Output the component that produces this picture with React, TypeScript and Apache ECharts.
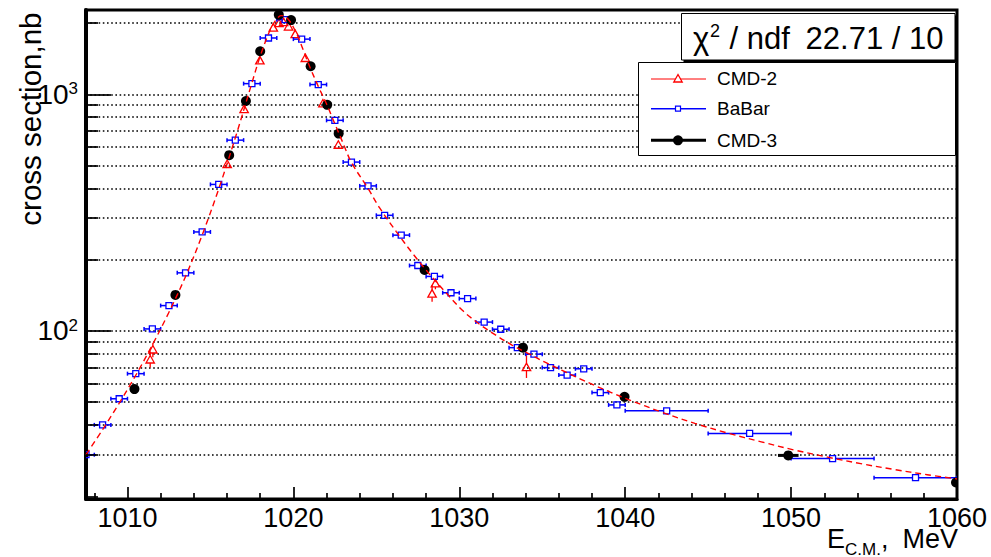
import React, { useEffect, useRef } from "react";
import * as echarts from "echarts";

const FONT = "'Liberation Sans', Arial, Helvetica, sans-serif";
const RED = "#ff0000";
const BLUE = "#0000ff";
const BLACK = "#000000";

// Axis ranges
const X_MIN = 1007.5;
const X_MAX = 1060;
const Y_MIN = 19.5;
const Y_MAX = 2270;

// Plot area in pixels (used for tick lengths)
const GRID_LEFT = 86;
const GRID_TOP = 10;
const GRID_RIGHT = 34;
const GRID_BOTTOM = 58;
const PLOT_W = 991 - GRID_LEFT - GRID_RIGHT;
const PLOT_H = 557 - GRID_TOP - GRID_BOTTOM;

// Tick positions
const xMajorTicks = [1010, 1020, 1030, 1040, 1050, 1060];
const xMinorTicks = [
  1008, 1012, 1014, 1016, 1018, 1022, 1024, 1026, 1028, 1032, 1034, 1036, 1038,
  1042, 1044, 1046, 1048, 1052, 1054, 1056, 1058,
];
const yMajorTicks = [100, 1000];
const yMinorTicks = [20, 30, 40, 50, 60, 70, 80, 90, 200, 300, 400, 500, 600, 700, 800, 900, 2000];
const yGridLines = [30, 40, 50, 60, 70, 80, 90, 100, 200, 300, 400, 500, 600, 700, 800, 900, 1000, 2000];

// Fit curve, cross section (nb) vs energy (MeV)
const fitE = [
  1007.5, 1008.5, 1009.5, 1010.5, 1011.5, 1012.5, 1013.5, 1014.5, 1015.5, 1016.5,
  1017.5, 1018.0, 1018.5, 1018.75, 1019.0, 1019.25, 1019.5, 1019.75, 1020.0, 1020.25,
  1020.5, 1020.75, 1021.0, 1021.5, 1022.0, 1022.5, 1023.0, 1023.5, 1024.5, 1025.2,
  1026.2, 1027.2, 1028.2, 1029.2, 1030.2, 1031.2, 1032.2, 1033.2, 1034.2, 1035.2,
  1036.2, 1037.2, 1038.2, 1039.2, 1040.2, 1042.2, 1044.2, 1046.2, 1048.2, 1050.2,
  1052.2, 1054.2, 1056.2, 1058.2, 1060.0,
];
const fitXs = [
  30, 38.3, 49.5, 65, 87.3, 120, 170, 254, 398, 655,
  1117, 1450, 1800, 1960, 2080, 2150, 2130, 2050, 1920, 1770,
  1600, 1440, 1300, 1080, 910, 750, 620, 515, 400, 331,
  263, 212, 174, 145, 122, 107, 96, 87, 80, 73.6,
  68.1, 63.1, 58.7, 54.8, 51.3, 45.4, 40.7, 37.0, 34.0, 31.4,
  29.3, 27.5, 26.0, 24.7, 23.7,
];

// CMD-2
const cmd2E = [
  1011.37, 1011.53, 1016.01, 1017.03, 1017.98, 1018.79, 1019.13, 1019.41, 1019.71,
  1020.11, 1020.72, 1021.78, 1022.71, 1028.36, 1028.56, 1034.05,
];
const cmd2Xs = [75.4, 83.1, 505, 861, 1383, 1904, 1988, 2007, 1923, 1786, 1416, 910, 609, 143, 158, 70];
const cmd2Lo = [70, 77.5, 490, 840, 1350, 1865, 1950, 1965, 1885, 1750, 1385, 890, 590, 133, 150, 63.3];
const cmd2Hi = [82, 89, 520, 882, 1416, 1943, 2026, 2049, 1961, 1822, 1447, 930, 628, 156, 166, 79];

// BaBar
const babarE = [
  1007.5, 1008.5, 1009.5, 1010.5, 1011.5, 1012.5, 1013.5, 1014.5, 1015.5, 1016.5,
  1017.5, 1018.5, 1019.5, 1020.5, 1021.5, 1022.5, 1023.5, 1024.5, 1025.5, 1026.5,
  1027.5, 1028.5, 1029.5, 1030.5, 1031.5, 1032.5, 1033.5, 1034.5, 1035.5, 1036.5,
  1037.5, 1038.5, 1039.5, 1042.5, 1047.5, 1052.5, 1057.5,
];
const babarXs = [
  30, 40.1, 51.7, 66, 102, 128, 176, 262, 416, 640,
  1109, 1729, 2066, 1710, 1099, 776, 517, 410, 308, 254,
  189, 170, 145, 137, 109, 101.7, 85, 79.8, 70, 65.1,
  69.2, 54.9, 48.7, 46, 36.9, 28.9, 24,
];
const babarHalfBin = [
  0.5, 0.5, 0.5, 0.5, 0.5, 0.5, 0.5, 0.5, 0.5, 0.5,
  0.5, 0.5, 0.5, 0.5, 0.5, 0.5, 0.5, 0.5, 0.5, 0.5,
  0.5, 0.5, 0.5, 0.5, 0.5, 0.5, 0.5, 0.5, 0.5, 0.5,
  0.5, 0.5, 0.5, 2.5, 2.5, 2.5, 2.5,
];

// CMD-3
const cmd3E = [
  1010.42, 1012.89, 1016.13, 1017.14, 1018.0, 1019.12, 1019.86, 1021.04, 1022.04,
  1022.73, 1027.91, 1033.84, 1039.96, 1049.83, 1059.94,
];
const cmd3Xs = [56.8, 142, 553, 937, 1520, 2165, 2058, 1313, 902, 682, 181, 85, 52.7, 29.8, 22.9];
const cmd3HalfSpread = [0, 0, 0, 0, 0, 0, 0, 0, 0, 0, 0, 0, 0, 0.62, 0];

function staticGraphics(): any[] {
  const txt = (x: number, y: number, text: string, size: number, align = "left", z = 102) => ({
    type: "text",
    x,
    y,
    z,
    style: { text, font: `${size}px ${FONT}`, fill: BLACK, align, verticalAlign: "middle" },
  });
  return [
    // y title
    {
      type: "text",
      x: 30,
      y: 12.5,
      rotation: Math.PI / 2,
      z: 100,
      style: {
        text: "cross section,nb",
        font: `29.5px ${FONT}`,
        fill: BLACK,
        align: "right",
        verticalAlign: "middle",
      },
    },
    // x title
    txt(827, 538.5, "E", 27),
    txt(845, 549, "C.M.", 17),
    txt(881, 538.5, ",", 27),
    txt(958, 539, "MeV", 27, "right"),
    // fit statistics box
    { type: "rect", z: 100, shape: { x: 683.5, y: 15.5, width: 273.5, height: 46.5 }, style: { fill: BLACK } },
    {
      type: "rect",
      z: 101,
      shape: { x: 681.5, y: 13.5, width: 273.5, height: 46.5 },
      style: { fill: "#ffffff", stroke: BLACK, lineWidth: 1 },
    },
    txt(693, 38.5, "χ", 31),
    txt(710, 31, "2", 18),
    txt(721, 38.5, " / ndf", 31),
    txt(943.5, 38.5, "22.71 / 10", 31, "right"),
    // legend
    {
      type: "rect",
      z: 100,
      shape: { x: 638.5, y: 62.5, width: 317, height: 93 },
      style: { fill: "#ffffff", stroke: BLACK, lineWidth: 1 },
    },
    { type: "line", z: 101, shape: { x1: 651, y1: 79, x2: 706, y2: 79 }, style: { stroke: RED, lineWidth: 1 } },
    {
      type: "polygon",
      z: 102,
      shape: { points: [[678, 74.5], [682.2, 82], [673.8, 82]] },
      style: { fill: "#ffffff", stroke: RED, lineWidth: 1.3 },
    },
    txt(717, 78.5, "CMD-2", 19),
    {
      type: "line",
      z: 101,
      shape: { x1: 651, y1: 108.7, x2: 706, y2: 108.7 },
      style: { stroke: BLUE, lineWidth: 1.5 },
    },
    {
      type: "rect",
      z: 102,
      shape: { x: 675.5, y: 106.2, width: 5, height: 5 },
      style: { fill: "#ffffff", stroke: BLUE, lineWidth: 1.2 },
    },
    txt(717, 108.8, "BaBar", 19),
    {
      type: "line",
      z: 101,
      shape: { x1: 651, y1: 140.3, x2: 706, y2: 140.3 },
      style: { stroke: BLACK, lineWidth: 3 },
    },
    { type: "circle", z: 102, shape: { cx: 678, cy: 140.3, r: 5 }, style: { fill: BLACK } },
    txt(717, 140.3, "CMD-3", 19),
  ];
}

// Tick segments as axis-anchored mark lines; lengths given in pixels
function tickMarkLines(): any[] {
  const mevPerPx = (X_MAX - X_MIN) / PLOT_W;
  const decadesPerPx = (Math.log10(Y_MAX) - Math.log10(Y_MIN)) / PLOT_H;
  const xTick = (e: number, len: number) => [
    { coord: [e, Y_MIN] },
    { coord: [e, Y_MIN * Math.pow(10, len * decadesPerPx)] },
  ];
  const yTick = (v: number, len: number) => [
    { coord: [X_MIN, v] },
    { coord: [X_MIN + len * mevPerPx, v] },
  ];
  return [
    ...xMajorTicks.map((e) => xTick(e, 12)),
    ...xMinorTicks.map((e) => xTick(e, 6)),
    ...yMajorTicks.map((v) => yTick(v, 25)),
    ...yMinorTicks.map((v) => yTick(v, 12)),
  ];
}

function buildOption(): any {
  const cmd2Data = cmd2E.map((e, i) => [e, cmd2Xs[i], cmd2Lo[i], cmd2Hi[i]]);
  const babarData = babarE.map((e, i) => [e, babarXs[i], babarHalfBin[i]]);
  const cmd3Data = cmd3E.map((e, i) => [e, cmd3Xs[i], cmd3HalfSpread[i]]);
  const fitData = fitE.map((e, i) => [e, fitXs[i]]);

  const axisText = { fontFamily: FONT, color: BLACK };

  return {
    animation: false,
    backgroundColor: "#ffffff",
    grid: {
      left: GRID_LEFT,
      top: GRID_TOP,
      right: GRID_RIGHT,
      bottom: GRID_BOTTOM,
      show: true,
      borderColor: BLACK,
      borderWidth: 3,
      backgroundColor: "transparent",
    },
    xAxis: {
      type: "value",
      min: X_MIN,
      max: X_MAX,
      position: "bottom",
      axisLine: { show: true, onZero: false, lineStyle: { color: BLACK, width: 3 } },
      axisTick: { show: false },
      axisLabel: {
        show: true,
        customValues: xMajorTicks,
        fontSize: 27,
        margin: 5,
        formatter: (v: number) => String(v),
        ...axisText,
      },
      splitLine: { show: false },
    },
    yAxis: {
      type: "log",
      logBase: 10,
      min: Y_MIN,
      max: Y_MAX,
      position: "left",
      axisLine: { show: true, onZero: false, lineStyle: { color: BLACK, width: 4 } },
      axisTick: { show: false },
      axisLabel: {
        show: true,
        customValues: yMajorTicks,
        margin: 8,
        fontSize: 27,
        fontFamily: FONT,
        color: BLACK,
        formatter: (v: number) => `{b|10}{s|${Math.round(Math.log10(v))}}`,
        rich: {
          b: { fontSize: 28, ...axisText },
          s: { fontSize: 17, verticalAlign: "top", ...axisText },
        },
      },
      splitLine: { show: false },
    },
    series: [
      {
        name: "axis ticks",
        type: "line",
        data: [],
        silent: true,
        z: 8,
        markLine: {
          silent: true,
          z: 8,
          symbol: ["none", "none"],
          label: { show: false },
          lineStyle: { color: BLACK, width: 1.7, type: "solid" },
          data: tickMarkLines(),
        },
      },
      {
        name: "CMD-2",
        type: "custom",
        clip: true,
        z: 2,
        encode: { x: 0, y: 1 },
        data: cmd2Data,
        renderItem: (_p: any, api: any) => {
          const e = api.value(0);
          const c = api.coord([e, api.value(1)]);
          const lo = api.coord([e, api.value(2)]);
          const hi = api.coord([e, api.value(3)]);
          const children: any[] = [];
          const top = c[1] - 4.5;
          const bot = c[1] + 3;
          if (lo[1] > bot) {
            children.push({
              type: "line",
              shape: { x1: c[0], y1: bot, x2: c[0], y2: lo[1] },
              style: { stroke: RED, lineWidth: 1.3 },
            });
          }
          if (hi[1] < top) {
            children.push({
              type: "line",
              shape: { x1: c[0], y1: hi[1], x2: c[0], y2: top },
              style: { stroke: RED, lineWidth: 1.3 },
            });
          }
          children.push({
            type: "polygon",
            shape: {
              points: [
                [c[0], top],
                [c[0] + 4.2, bot],
                [c[0] - 4.2, bot],
              ],
            },
            style: { fill: "none", stroke: RED, lineWidth: 1.3 },
          });
          return { type: "group", children };
        },
      },
      {
        name: "BaBar",
        type: "custom",
        clip: true,
        z: 3,
        encode: { x: 0, y: 1 },
        data: babarData,
        renderItem: (_p: any, api: any) => {
          const e = api.value(0);
          const v = api.value(1);
          const hw = api.value(2);
          const c = api.coord([e, v]);
          const l = api.coord([e - hw, v]);
          const r = api.coord([e + hw, v]);
          const s = 3;
          const st = { stroke: BLUE, lineWidth: 1.5 };
          const children: any[] = [
            { type: "line", shape: { x1: l[0], y1: c[1], x2: c[0] - s, y2: c[1] }, style: st },
            { type: "line", shape: { x1: c[0] + s, y1: c[1], x2: r[0], y2: c[1] }, style: st },
            { type: "line", shape: { x1: l[0], y1: c[1] - 2, x2: l[0], y2: c[1] + 2 }, style: st },
            { type: "line", shape: { x1: r[0], y1: c[1] - 2, x2: r[0], y2: c[1] + 2 }, style: st },
            {
              type: "rect",
              shape: { x: c[0] - s, y: c[1] - s, width: 2 * s, height: 2 * s },
              style: { fill: "none", stroke: BLUE, lineWidth: 1.3 },
            },
          ];
          return { type: "group", children };
        },
      },
      {
        name: "CMD-3",
        type: "custom",
        clip: true,
        z: 4,
        encode: { x: 0, y: 1 },
        data: cmd3Data,
        renderItem: (_p: any, api: any) => {
          const e = api.value(0);
          const v = api.value(1);
          const hw = api.value(2);
          const c = api.coord([e, v]);
          const children: any[] = [];
          if (hw > 0) {
            const l = api.coord([e - hw, v]);
            const r = api.coord([e + hw, v]);
            children.push({
              type: "line",
              shape: { x1: l[0], y1: c[1], x2: r[0], y2: c[1] },
              style: { stroke: BLACK, lineWidth: 3 },
            });
          }
          children.push({
            type: "circle",
            shape: { cx: c[0], cy: c[1], r: 5 },
            style: { fill: BLACK },
          });
          return { type: "group", children };
        },
      },
      {
        name: "fit",
        type: "line",
        z: 5,
        data: fitData,
        smooth: 0.35,
        showSymbol: false,
        symbol: "none",
        lineStyle: { color: RED, width: 1.4, type: [6, 4] },
        markLine: {
          silent: true,
          z: 1,
          symbol: ["none", "none"],
          label: { show: false },
          lineStyle: { color: BLACK, width: 1.6, type: [1.6, 2.6] },
          data: yGridLines.map((v) => ({ yAxis: v })),
        },
      },
    ],
    graphic: staticGraphics(),
  };
}

export default function App() {
  const ref = useRef<HTMLDivElement>(null);

  useEffect(() => {
    if (!ref.current) return;
    const chart = echarts.init(ref.current, null, { renderer: "svg" });
    chart.setOption(buildOption());
    return () => {
      chart.dispose();
    };
  }, []);

  return (
    <div
      ref={ref}
      style={{
        position: "fixed",
        left: 0,
        top: 0,
        width: 991,
        height: 557,
        background: "#ffffff",
      }}
    />
  );
}
